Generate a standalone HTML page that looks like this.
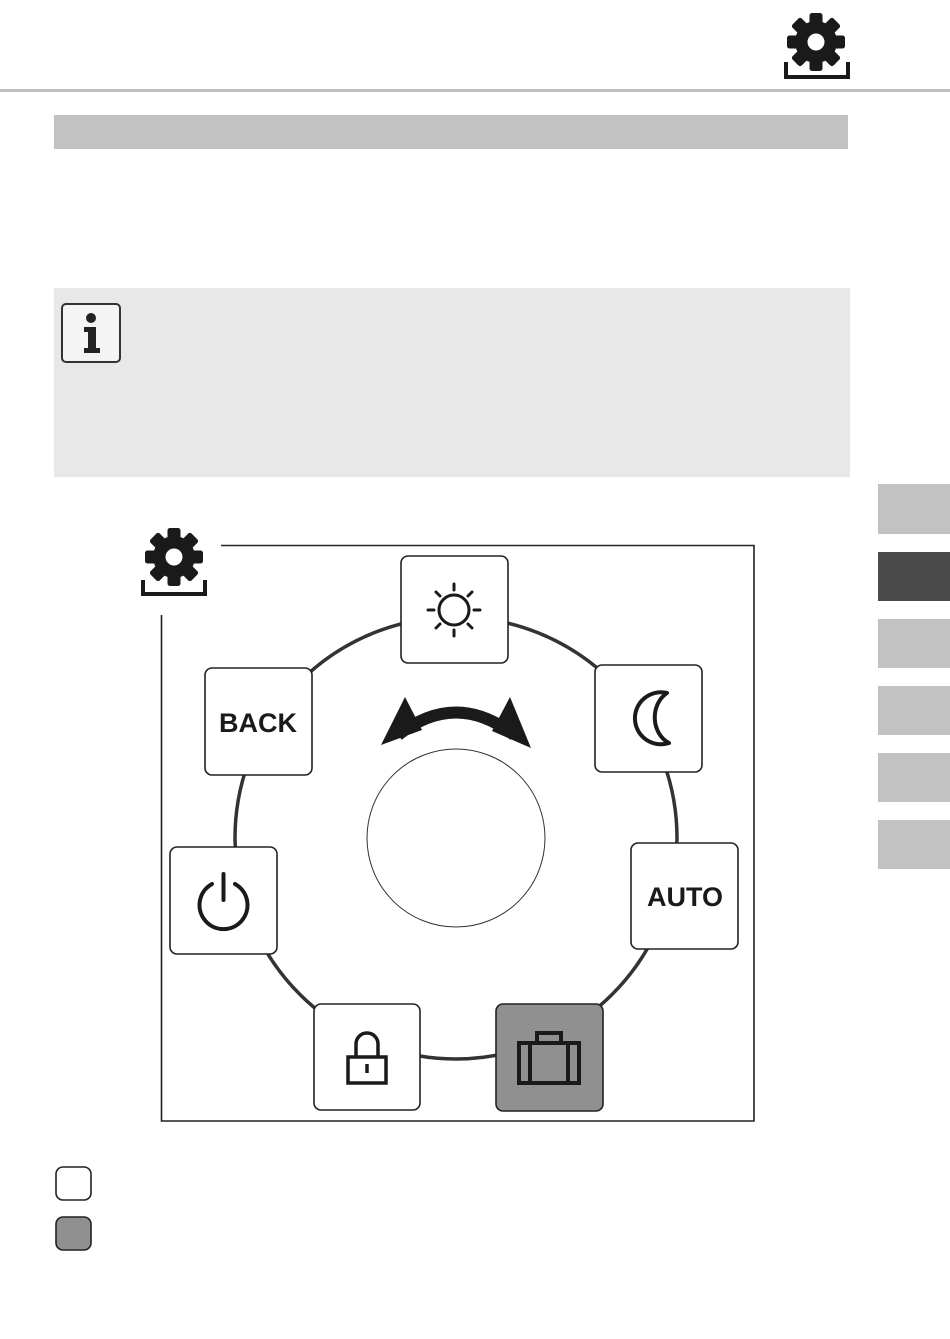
<!DOCTYPE html>
<html><head><style>body{margin:0;background:#fff}svg{display:block}</style></head><body>
<svg width="950" height="1339" viewBox="0 0 950 1339" xmlns="http://www.w3.org/2000/svg" font-family="Liberation Sans, sans-serif">
<defs>
<g id="gear">
<circle r="21" fill="#1a1a1a"/>
<g fill="#1a1a1a">
<rect x="-6.5" y="-29" width="13" height="58" rx="2.5"/>
<rect x="-6.5" y="-29" width="13" height="58" rx="2.5" transform="rotate(45)"/>
<rect x="-6.5" y="-29" width="13" height="58" rx="2.5" transform="rotate(90)"/>
<rect x="-6.5" y="-29" width="13" height="58" rx="2.5" transform="rotate(135)"/>
</g>
<circle r="8.5" fill="#fff"/>
</g>
</defs>
<use href="#gear" transform="translate(816,42)"/>
<path d="M786 62 V77 H848 V62" fill="none" stroke="#1a1a1a" stroke-width="4"/>
<rect x="0" y="89" width="950" height="3" fill="#bdbdbd"/>
<rect x="54" y="115" width="794" height="34" fill="#c2c2c2"/>
<rect x="54" y="288" width="796" height="189" fill="#e8e8e8"/>
<rect x="62" y="304" width="58" height="58" rx="4" fill="#f4f4f4" stroke="#333" stroke-width="2"/>
<circle cx="91" cy="318" r="5" fill="#222"/>
<path d="M84 327 H96 V348 H100 V353 H84 V348 H88 V332 H84Z" fill="#222"/>
<rect x="878" y="484" width="72" height="50" fill="#c2c2c2"/>
<rect x="878" y="552" width="72" height="49" fill="#4a4a4a"/>
<rect x="878" y="619" width="72" height="49" fill="#c2c2c2"/>
<rect x="878" y="686" width="72" height="49" fill="#c2c2c2"/>
<rect x="878" y="753" width="72" height="49" fill="#c2c2c2"/>
<rect x="878" y="820" width="72" height="49" fill="#c2c2c2"/>
<path d="M221 545.5 H754 V1121 H161.5 V615" fill="none" stroke="#222" stroke-width="1.6"/>
<use href="#gear" transform="translate(174,557)"/>
<path d="M143 580 V594 H205 V580" fill="none" stroke="#1a1a1a" stroke-width="4"/>
<circle cx="456" cy="838" r="221" fill="none" stroke="#333" stroke-width="3.5"/>
<circle cx="456" cy="838" r="89" fill="#fff" stroke="#333" stroke-width="1"/>
<path d="M398 735 Q456 690 514 735" fill="none" stroke="#1a1a1a" stroke-width="12"/>
<polygon points="381,745 405,697 422,730" fill="#1a1a1a"/>
<polygon points="531,748 510,697 492,731" fill="#1a1a1a"/>
<g stroke="#222" stroke-width="1.6" fill="#fff">
<rect x="401" y="556" width="107" height="107" rx="7"/>
<rect x="595" y="665" width="107" height="107" rx="7"/>
<rect x="205" y="668" width="107" height="107" rx="7"/>
<rect x="170" y="847" width="107" height="107" rx="7"/>
<rect x="631" y="843" width="107" height="106" rx="7"/>
<rect x="314" y="1004" width="106" height="106" rx="7"/>
<rect x="496" y="1004" width="107" height="107" rx="7" fill="#909090"/>
</g>
<g stroke="#1a1a1a" stroke-width="3" fill="none" stroke-linecap="round">
<circle cx="454" cy="610" r="15"/>
<path d="M454 584v6M454 630v6M428 610h6M474 610h6M436 592l4 4M468 624l4 4M472 592l-4 4M440 624l-4 4"/>
</g>
<path d="M667 693 A26 26 0 1 0 669 743 A24 28 0 0 1 667 693Z" fill="none" stroke="#1a1a1a" stroke-width="4" stroke-linejoin="round"/>
<text x="258" y="732" font-size="27" font-weight="bold" text-anchor="middle" fill="#1a1a1a">BACK</text>
<text x="685" y="906" font-size="27" font-weight="bold" text-anchor="middle" fill="#1a1a1a">AUTO</text>
<g stroke="#1a1a1a" stroke-width="4" fill="none" stroke-linecap="round">
<path d="M212 884 A24 24 0 1 0 235 884"/>
<path d="M223.5 874 V900"/>
</g>
<g stroke="#1a1a1a" stroke-width="3.5" fill="none">
<path d="M356 1057 V1044 A11 11 0 0 1 378 1044 V1057"/>
<rect x="348" y="1057" width="38" height="26"/>
<path d="M367 1064 V1073"/>
</g>
<g stroke="#1a1a1a" stroke-width="4" fill="none">
<rect x="519" y="1043" width="60" height="40"/>
<path d="M537 1043 V1033 H561 V1043M530 1043 V1083M568 1043 V1083"/>
</g>
<rect x="56" y="1167" width="35" height="33" rx="7" fill="#fff" stroke="#222" stroke-width="1.6"/>
<rect x="56" y="1217" width="35" height="33" rx="7" fill="#909090" stroke="#222" stroke-width="1.6"/>
</svg>
</body></html>
